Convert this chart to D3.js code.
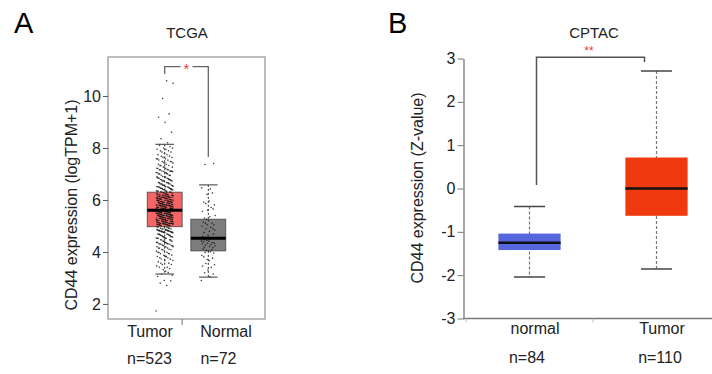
<!DOCTYPE html>
<html>
<head>
<meta charset="utf-8">
<script src="https://cdn.jsdelivr.net/npm/d3@7"></script>
<style>
  body { margin: 0; background: #fff; }
  svg { display: block; font-family: "Liberation Sans", Arial, sans-serif; }
</style>
</head>
<body>
<svg id="chart" width="712" height="374"></svg>
<script>
// ---- panel A (TCGA) data ----
const tcgaCategories = ["Tumor", "Normal"];
const tcgaCounts = ["n=523", "n=72"];
const tcgaLow = [3.15, 3.03];
const tcgaQ1 = [4.97, 4.04];
const tcgaMedian = [5.6, 4.53];
const tcgaQ3 = [6.3, 5.26];
const tcgaHigh = [8.14, 6.58];
const tcgaTicks = [2, 4, 6, 8, 10];
// [value, number of samples]
const tumorBins = [
  [1.75, 1], [2.7, 1], [2.8, 1], [2.9, 1], [3.0, 2], [3.2, 4], [3.4, 5], [3.6, 7],
  [3.8, 9], [4.0, 11], [4.2, 14], [4.4, 17], [4.6, 22], [4.8, 26], [4.93, 10],
  [5.05, 20], [5.15, 20], [5.25, 22], [5.35, 22], [5.45, 23], [5.55, 24],
  [5.65, 22], [5.75, 21], [5.85, 20], [5.95, 19], [6.05, 18], [6.15, 16], [6.25, 15],
  [6.4, 22], [6.6, 20], [6.8, 18], [7.0, 15], [7.2, 13], [7.4, 11], [7.6, 9],
  [7.8, 7], [8.0, 6], [8.3, 2], [8.6, 1], [9.0, 1], [9.2, 1], [9.3, 1], [9.9, 1],
  [10.5, 1], [10.6, 1]
];
const normalBins = [
  [3.0, 2], [3.2, 2], [3.4, 3], [3.6, 3], [3.8, 4], [4.0, 4], [4.1, 3], [4.2, 4],
  [4.3, 5], [4.4, 5], [4.5, 2], [4.6, 4], [4.8, 5], [5.0, 5], [5.2, 4], [5.4, 3],
  [5.6, 3], [5.8, 3], [6.0, 2], [6.2, 2], [6.5, 2], [7.35, 1], [7.4, 1]
];

// ---- panel B (CPTAC) data ----
const cptacCategories = ["normal", "Tumor"];
const cptacCounts = ["n=84", "n=110"];
const cptacLow = [-2.04, -1.855];
const cptacQ1 = [-1.42, -0.63];
const cptacMedian = [-1.25, 0.0];
const cptacQ3 = [-1.04, 0.715];
const cptacHigh = [-0.415, 2.71];
const cptacTicks = [-3, -2, -1, 0, 1, 2, 3];

const svg = d3.select("#chart");
svg.append("rect").attr("width", 712).attr("height", 374).attr("fill", "#fff");

// =============== Panel A ===============
const yA = d3.scaleLinear().domain([1.42, 11.5]).range([319, 57]);
const xA = d3.scaleBand().domain(tcgaCategories).range([138.5, 234.5]).padding(0.2);
const labA = d3.scalePoint().domain(tcgaCategories).range([150, 226]);
const nA = d3.scalePoint().domain(tcgaCategories).range([149.5, 218.5]);
const fillA = ["#f46666", "#7c7c7c"];

svg.append("text").attr("x", 14).attr("y", 33).attr("font-size", 29).text("A");
svg.append("text").attr("x", 187).attr("y", 38).attr("text-anchor", "middle")
  .attr("font-size", 15).attr("fill", "#222").text("TCGA");

svg.append("rect").attr("x", 108).attr("y", 57).attr("width", 157).attr("height", 262)
  .attr("fill", "none").attr("stroke", "#9a9a9a").attr("stroke-width", 1.3);

const axA = svg.append("g").attr("transform", "translate(108,0)")
  .call(d3.axisLeft(yA).tickValues(tcgaTicks).tickSize(5).tickPadding(2));
axA.select(".domain").remove();
axA.selectAll("line").attr("stroke", "#555");
axA.selectAll("text").attr("font-size", 16).attr("fill", "#222")
  .style("font-family", "Liberation Sans, Arial, sans-serif");

// single tick between the two groups
svg.append("line").attr("x1", xA.step() + xA.range()[0]).attr("x2", xA.step() + xA.range()[0])
  .attr("y1", 319).attr("y2", 325).attr("stroke", "#777");

svg.append("text").attr("transform", "translate(77," + 205 + ") rotate(-90)")
  .attr("text-anchor", "middle").attr("font-size", 16).attr("fill", "#222")
  .text("CD44 expression (logTPM+1)");

tcgaCategories.forEach((c, i) => {
  const cx = xA(c) + xA.bandwidth() / 2;
  const bw = xA.bandwidth();
  const g = svg.append("g");
  g.append("rect").attr("x", xA(c)).attr("y", yA(tcgaQ3[i]))
    .attr("width", bw).attr("height", yA(tcgaQ1[i]) - yA(tcgaQ3[i]))
    .attr("fill", fillA[i]).attr("stroke", "#444").attr("stroke-width", 0.8);

  // jittered samples
  const bins = i === 0 ? tumorBins : normalBins;
  const half = i === 0 ? 8.5 : 7;
  const pts = [];
  bins.forEach(([v, n], b) => {
    const next = bins[b + 1] ? bins[b + 1][0] - v : 0.1;
    const spread = n > 1 ? Math.min(next, 0.2) : 0.04;
    for (let k = 0; k < n; k++) pts.push({ v: v, s: spread });
  });
  g.selectAll("circle").data(pts).enter().append("circle")
    .attr("cx", (d, k) => cx + (((k * 0.61803398875) % 1) - 0.5) * 2 * half)
    .attr("cy", (d, k) => yA(d.v + (((k * 0.7548776662) % 1) - 0.5) * d.s))
    .attr("r", 0.8).attr("fill", "#111").attr("opacity", 0.8);

  // whiskers
  g.append("line").attr("x1", cx).attr("x2", cx).attr("y1", yA(tcgaHigh[i])).attr("y2", yA(tcgaQ3[i]))
    .attr("stroke", "#333").attr("stroke-dasharray", "2,2");
  g.append("line").attr("x1", cx).attr("x2", cx).attr("y1", yA(tcgaQ1[i])).attr("y2", yA(tcgaLow[i]))
    .attr("stroke", "#333").attr("stroke-dasharray", "2,2");
  [tcgaHigh[i], tcgaLow[i]].forEach(v => {
    g.append("line").attr("x1", cx - bw / 4 - 0.5).attr("x2", cx + bw / 4 + 0.5)
      .attr("y1", yA(v)).attr("y2", yA(v)).attr("stroke", "#555").attr("stroke-width", 1.2);
  });
  g.append("line").attr("x1", xA(c)).attr("x2", xA(c) + bw)
    .attr("y1", yA(tcgaMedian[i])).attr("y2", yA(tcgaMedian[i]))
    .attr("stroke", "#000").attr("stroke-width", 3);

  svg.append("text").attr("x", labA(c)).attr("y", 337).attr("text-anchor", "middle")
    .attr("font-size", 16).attr("fill", "#222").text(c);
  svg.append("text").attr("x", nA(c)).attr("y", 364).attr("text-anchor", "middle")
    .attr("font-size", 16).attr("fill", "#222").text(tcgaCounts[i]);
});

// significance bracket A
{
  const x1 = xA("Tumor") + xA.bandwidth() / 2, x2 = xA("Normal") + xA.bandwidth() / 2;
  const yTop = 66.7, mid = (x1 + x2) / 2;
  svg.append("path")
    .attr("d", `M${x1},74 V${yTop} H${mid - 6} M${mid + 6},${yTop} H${x2} V157`)
    .attr("fill", "none").attr("stroke", "#666").attr("stroke-width", 1.3);
  svg.append("text").attr("x", mid).attr("y", 74).attr("text-anchor", "middle")
    .attr("font-size", 15).attr("fill", "#f03c3c").text("*");
}

// =============== Panel B ===============
const yB = d3.scaleLinear().domain([-3, 3]).range([318.5, 58.5]);
const xB = d3.scaleBand().domain(cptacCategories).range([466, 720]);
const fillB = ["#5566de", "#ef3a0f"];
const labB = d3.scalePoint().domain(cptacCategories).range([535, 662]);
const nB = d3.scalePoint().domain(cptacCategories).range([527, 660]);

svg.append("text").attr("x", 388).attr("y", 33).attr("font-size", 29).text("B");
svg.append("text").attr("x", 594).attr("y", 38).attr("text-anchor", "middle")
  .attr("font-size", 15).attr("fill", "#222").text("CPTAC");

const axB = svg.append("g").attr("transform", "translate(463.5,0)")
  .call(d3.axisLeft(yB).tickValues(cptacTicks).tickSize(6).tickSizeOuter(0).tickPadding(2)
    .tickFormat(d => d < 0 ? "-" + Math.abs(d) : d));
axB.select(".domain").attr("stroke", "#777").attr("stroke-width", 1.3);
axB.selectAll("line").attr("stroke", "#777");
axB.selectAll("text").attr("font-size", 16).attr("fill", "#222")
  .style("font-family", "Liberation Sans, Arial, sans-serif");

svg.append("line").attr("x1", 463).attr("x2", 712).attr("y1", yB(-3)).attr("y2", yB(-3))
  .attr("stroke", "#777").attr("stroke-width", 1.3);
cptacCategories.forEach(c => {
  svg.append("line").attr("x1", xB(c)).attr("x2", xB(c))
    .attr("y1", yB(-3)).attr("y2", yB(-3) + 4).attr("stroke", "#bbb");
});

svg.append("text").attr("transform", "translate(422.5,188) rotate(-90)")
  .attr("text-anchor", "middle").attr("font-size", 16).attr("fill", "#222")
  .text("CD44 expression (Z-value)");

cptacCategories.forEach((c, i) => {
  const cx = xB(c) + xB.bandwidth() / 2;
  const bw = xB.bandwidth() * 0.49;
  const g = svg.append("g");
  g.append("line").attr("x1", cx).attr("x2", cx).attr("y1", yB(cptacHigh[i])).attr("y2", yB(cptacLow[i]))
    .attr("stroke", "#777").attr("stroke-width", 1.2).attr("stroke-dasharray", "3,2");
  [cptacHigh[i], cptacLow[i]].forEach(v => {
    g.append("line").attr("x1", cx - bw / 4).attr("x2", cx + bw / 4)
      .attr("y1", yB(v)).attr("y2", yB(v)).attr("stroke", "#444").attr("stroke-width", 1.5);
  });
  g.append("rect").attr("x", cx - bw / 2).attr("y", yB(cptacQ3[i]))
    .attr("width", bw).attr("height", yB(cptacQ1[i]) - yB(cptacQ3[i]))
    .attr("fill", fillB[i]);
  g.append("line").attr("x1", cx - bw / 2).attr("x2", cx + bw / 2)
    .attr("y1", yB(cptacMedian[i])).attr("y2", yB(cptacMedian[i]))
    .attr("stroke", "#111").attr("stroke-width", 2.5);

  svg.append("text").attr("x", labB(c)).attr("y", 334).attr("text-anchor", "middle")
    .attr("font-size", 16).attr("fill", "#222").text(c);
  svg.append("text").attr("x", nB(c)).attr("y", 363).attr("text-anchor", "middle")
    .attr("font-size", 16).attr("fill", "#222").text(cptacCounts[i]);
});

// significance bracket B
{
  const x1 = xB("normal") + xB.bandwidth() / 2 + 7, x2 = xB("Tumor") + xB.bandwidth() / 2 - 12;
  svg.append("path")
    .attr("d", `M${x1},185 V57.3 H${x2} V62`)
    .attr("fill", "none").attr("stroke", "#555").attr("stroke-width", 1.5);
  svg.append("text").attr("x", 589).attr("y", 55).attr("text-anchor", "middle")
    .attr("font-size", 12).attr("fill", "#f03c3c").text("**");
}
</script>
</body>
</html>
